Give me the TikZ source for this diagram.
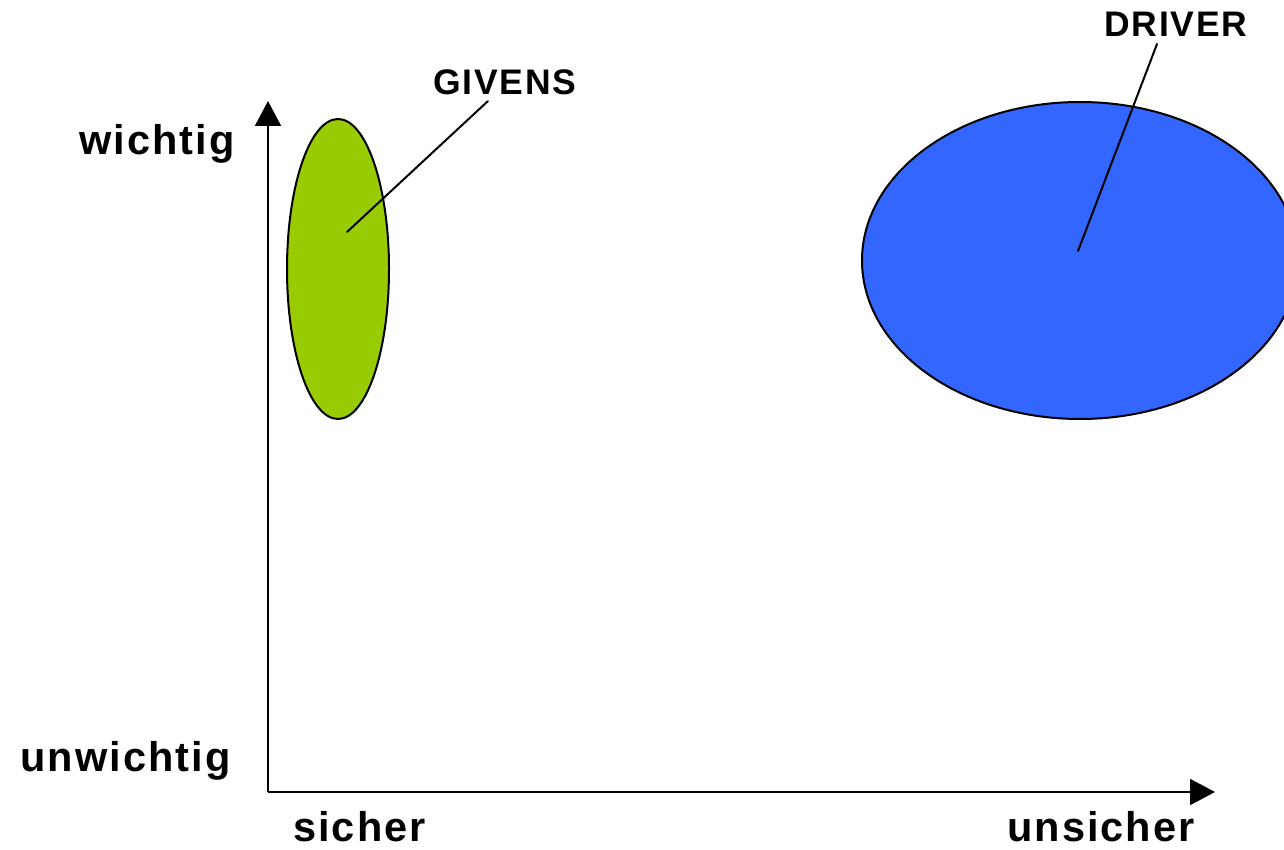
\documentclass[tikz,border=0pt]{standalone}
\usepackage{fontspec}
\setmainfont[LetterSpace=5]{Liberation Sans}
\usetikzlibrary{arrows.meta,shapes.geometric}
\definecolor{givensgreen}{HTML}{99CC00}
\definecolor{driverblue}{HTML}{3366FF}
\tikzset{
  axisline/.style={line width=2pt,-{Triangle[length=25pt,width=26pt]}},
  axislabel/.style={anchor=base west,inner sep=0pt,font=\fontsize{41.5}{48}\selectfont\bfseries},
  grouplabel/.style={anchor=base west,inner sep=0pt,font=\fontsize{35.5}{42}\selectfont\bfseries},
  blob/.style={ellipse,draw=black,line width=2pt,inner sep=0pt},
  leader/.style={line width=2pt,line cap=round}
}
\begin{document}
\begin{tikzpicture}[x=1pt,y=-1pt]
\useasboundingbox (0,0) rectangle (1284,850);
\clip (0,0) rectangle (1284,850);
% regions
\node[blob,fill=givensgreen,minimum width=102pt,minimum height=300pt] (givens) at (338,269) {};
\node[blob,fill=driverblue,minimum width=436pt,minimum height=317pt] (driver) at (1080,260.5) {};
% axes
\coordinate (origin) at (268,792);
\coordinate (ytip) at (268,101);
\coordinate (xtip) at (1215,792);
\draw[axisline] (origin) -- (ytip);
\draw[axisline] (origin) -- (xtip);
% axis labels
\node[axislabel] (wichtig) at (79,155) {wichtig};
\node[axislabel] (unwichtig) at (20,771) {unwichtig};
\node[axislabel] (sicher) at (293,841) {sicher};
\node[axislabel] (unsicher) at (1007,841) {unsicher};
% group labels with leader lines
\node[grouplabel] (givenslabel) at (433,95) {GIVENS};
\node[grouplabel] (driverlabel) at (1104,37) {DRIVER};
\coordinate (givensend) at (488,101);
\coordinate (givenspt) at (347,232);
\coordinate (driverend) at (1157,44);
\coordinate (driverpt) at (1078,251);
\draw[leader] (givensend) -- (givenspt);
\draw[leader] (driverend) -- (driverpt);
\end{tikzpicture}
\end{document}
